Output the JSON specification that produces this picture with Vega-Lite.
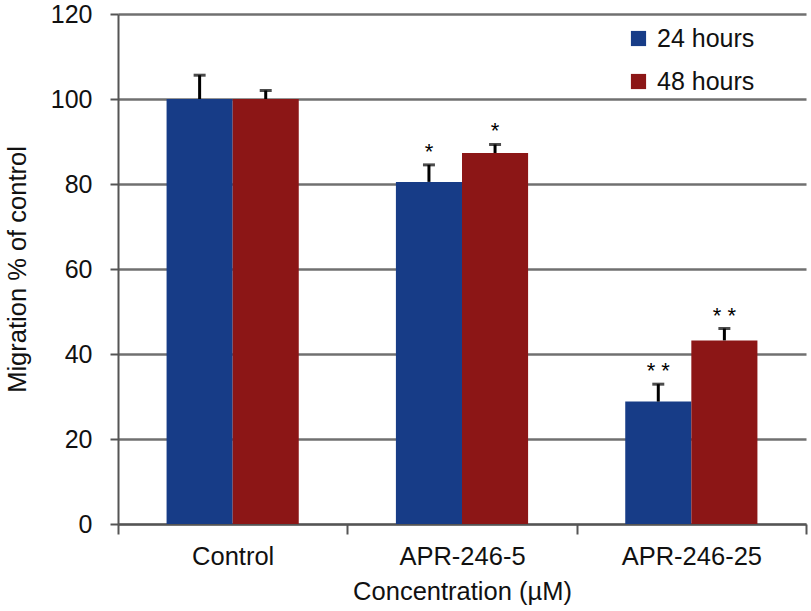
{
  "$schema": "https://vega.github.io/schema/vega-lite/v6.json",
  "autosize": "none",
  "width": 688,
  "height": 510,
  "padding": {"left": 118, "top": 14, "right": 5, "bottom": 87},
  "background": "white",
  "config": {
    "view": {"stroke": null},
    "font": "Liberation Sans",
    "axis": {"labelFont": "Liberation Sans", "titleFont": "Liberation Sans", "labelColor": "#111", "titleColor": "#111", "titleFontWeight": "normal"}
  },
  "data": {
    "values": [
      {"conc": "Control", "time": "24 hours", "value": 100, "err": 105.6, "sig": ""},
      {"conc": "Control", "time": "48 hours", "value": 100, "err": 102.0, "sig": ""},
      {"conc": "APR-246-5", "time": "24 hours", "value": 80.5, "err": 84.5, "sig": "*"},
      {"conc": "APR-246-5", "time": "48 hours", "value": 87.3, "err": 89.3, "sig": "*"},
      {"conc": "APR-246-25", "time": "24 hours", "value": 28.8, "err": 32.9, "sig": "* *"},
      {"conc": "APR-246-25", "time": "48 hours", "value": 43.2, "err": 46.0, "sig": "* *"}
    ]
  },
  "encoding": {
    "x": {
      "field": "conc", "type": "nominal", "sort": ["Control", "APR-246-5", "APR-246-25"],
      "scale": {"paddingInner": 0, "paddingOuter": 0},
      "axis": {
        "title": "Concentration (µM)", "labelAngle": 0, "labelFontSize": 25.5, "titleFontSize": 25.5,
        "domainColor": "#555", "domainWidth": 2, "tickColor": "#555", "tickWidth": 2, "tickSize": 10,
        "tickBand": "extent", "labelPadding": 10, "titlePadding": 10
      }
    },
    "xOffset": {"field": "time", "type": "nominal", "scale": {"paddingOuter": 0.735, "paddingInner": 0}}
  },
  "layer": [
    {
      "mark": {"type": "bar"},
      "encoding": {
        "y": {
          "field": "value", "type": "quantitative",
          "scale": {"domain": [0, 120], "nice": false},
          "axis": {
            "title": "Migration % of control", "values": [0, 20, 40, 60, 80, 100, 120],
            "labelFontSize": 25, "titleFontSize": 25.5, "grid": true, "gridColor": "#707070", "gridWidth": 2.5,
            "domainColor": "#555", "domainWidth": 2, "tickColor": "#555", "tickWidth": 2, "tickSize": 8,
            "labelPadding": 18, "titlePadding": 20
          }
        },
        "color": {
          "field": "time", "type": "nominal",
          "scale": {"domain": ["24 hours", "48 hours"], "range": ["#173C87", "#8C1616"]},
          "legend": {
            "title": null, "orient": "none", "legendX": 508, "legendY": 12,
            "symbolType": "square", "symbolSize": 230, "symbolStrokeWidth": 0,
            "labelFontSize": 25, "labelColor": "#111", "labelFont": "Liberation Sans", "rowPadding": 17, "labelOffset": 6
          }
        }
      }
    },
    {
      "mark": {"type": "rule", "color": "black", "strokeWidth": 3},
      "encoding": {"y": {"field": "value", "type": "quantitative"}, "y2": {"field": "err"}}
    },
    {
      "mark": {"type": "tick", "color": "black", "thickness": 3, "size": 12},
      "encoding": {"y": {"field": "err", "type": "quantitative"}}
    },
    {
      "mark": {"type": "text", "fontSize": 22, "baseline": "alphabetic", "dy": -6, "color": "black"},
      "encoding": {"y": {"field": "err", "type": "quantitative"}, "text": {"field": "sig"}}
    }
  ]
}
